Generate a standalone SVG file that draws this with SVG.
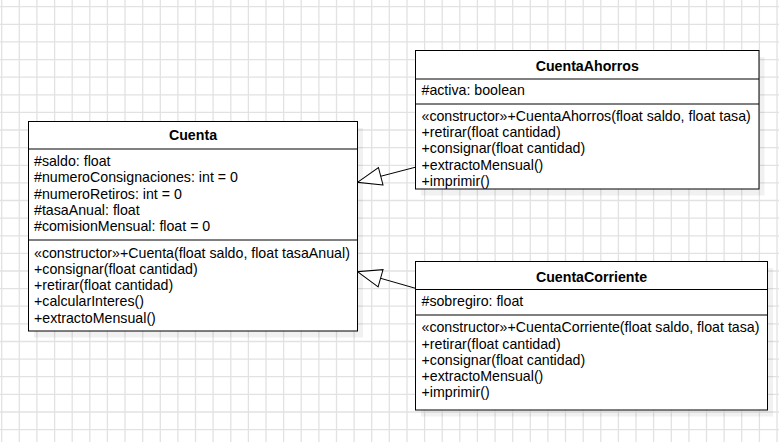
<svg xmlns="http://www.w3.org/2000/svg" width="779" height="442" viewBox="0 0 779 442">
  <style>
    text { font-family: "Liberation Sans", Arial, Helvetica, sans-serif; font-size: 14.2px; fill: #000; }
    .title { font-weight: bold; text-anchor: middle; }
    .box { fill: #fff; stroke: #000; stroke-width: 1; }
    .shadow { fill: #000; opacity: 0.055; }
    .sep { stroke: #000; stroke-width: 1; }
    .grid { fill: none; stroke: #e2e2e2; stroke-width: 1.3; }
    .edge { fill: none; stroke: #000; stroke-width: 1; marker-end: url(#inherit); }
  </style>
  <defs>
    <!-- hollow triangle for generalization -->
    <marker id="inherit" markerUnits="userSpaceOnUse" viewBox="-1 -1 26 20" refX="24" refY="9" markerWidth="26" markerHeight="20" orient="auto">
      <path d="M0,0 L24,9 L0,18 Z" fill="#fff" stroke="#000" stroke-width="1"/>
    </marker>
  </defs>

  <rect width="779" height="442" fill="#fff"/>
  <!-- background grid -->
  <path class="grid" d="M1.7 0V442M19.3 0V442M36.9 0V442M54.6 0V442M72.2 0V442M89.8 0V442M107.4 0V442M125 0V442M142.7 0V442M160.3 0V442M177.9 0V442M195.5 0V442M213.1 0V442M230.8 0V442M248.4 0V442M266 0V442M283.6 0V442M301.2 0V442M318.9 0V442M336.5 0V442M354.1 0V442M371.7 0V442M389.3 0V442M407 0V442M424.6 0V442M442.2 0V442M459.8 0V442M477.4 0V442M495.1 0V442M512.7 0V442M530.3 0V442M547.9 0V442M565.5 0V442M583.2 0V442M600.8 0V442M618.4 0V442M636 0V442M653.6 0V442M671.3 0V442M688.9 0V442M706.5 0V442M724.1 0V442M741.7 0V442M759.4 0V442M777 0V442M0 6.7H779M0 24.3H779M0 41.9H779M0 59.6H779M0 77.2H779M0 94.8H779M0 112.4H779M0 130H779M0 147.7H779M0 165.3H779M0 182.9H779M0 200.5H779M0 218.1H779M0 235.8H779M0 253.4H779M0 271H779M0 288.6H779M0 306.2H779M0 323.9H779M0 341.5H779M0 359.1H779M0 376.7H779M0 394.3H779M0 412H779M0 429.6H779"/>

  <g id="Cuenta">
    <rect class="shadow" x="34" y="128" width="329" height="209.5"/>
    <rect class="box" x="28.5" y="121.5" width="329" height="209.5"/>
    <line class="sep" x1="28.5" y1="149" x2="357.5" y2="149"/>
    <line class="sep" x1="28.5" y1="240" x2="357.5" y2="240"/>
    <text class="title" x="193" y="140">Cuenta</text>
    <text x="34" y="166">#saldo: float</text>
    <text x="34" y="182.3">#numeroConsignaciones: int = 0</text>
    <text x="34" y="198.6">#numeroRetiros: int = 0</text>
    <text x="34" y="214.9">#tasaAnual: float</text>
    <text x="34" y="231.2">#comisionMensual: float = 0</text>
    <text x="34" y="257.5">«constructor»+Cuenta(float saldo, float tasaAnual)</text>
    <text x="34" y="273.8">+consignar(float cantidad)</text>
    <text x="34" y="290.1">+retirar(float cantidad)</text>
    <text x="34" y="306.4">+calcularInteres()</text>
    <text x="34" y="322.7">+extractoMensual()</text>
  </g>

  <g id="CuentaAhorros">
    <rect class="shadow" x="421" y="57" width="343.5" height="138.5"/>
    <rect class="box" x="415.5" y="50.5" width="343.5" height="138.5"/>
    <line class="sep" x1="415.5" y1="79" x2="759" y2="79"/>
    <line class="sep" x1="415.5" y1="104" x2="759" y2="104"/>
    <text class="title" x="587.3" y="71">CuentaAhorros</text>
    <text x="421.5" y="95">#activa: boolean</text>
    <text x="421.5" y="121">«constructor»+CuentaAhorros(float saldo, float tasa)</text>
    <text x="421.5" y="137.2">+retirar(float cantidad)</text>
    <text x="421.5" y="153.4">+consignar(float cantidad)</text>
    <text x="421.5" y="169.6">+extractoMensual()</text>
    <text x="421.5" y="185.8">+imprimir()</text>
  </g>

  <g id="CuentaCorriente">
    <rect class="shadow" x="421" y="268" width="352" height="148.5"/>
    <rect class="box" x="415.5" y="261.5" width="352" height="148.5"/>
    <line class="sep" x1="415.5" y1="289.5" x2="767.5" y2="289.5"/>
    <line class="sep" x1="415.5" y1="315" x2="767.5" y2="315"/>
    <text class="title" x="591.5" y="281.7">CuentaCorriente</text>
    <text x="421.5" y="305.7">#sobregiro: float</text>
    <text x="421.5" y="332.3">«constructor»+CuentaCorriente(float saldo, float tasa)</text>
    <text x="421.5" y="348.5">+retirar(float cantidad)</text>
    <text x="421.5" y="364.8">+consignar(float cantidad)</text>
    <text x="421.5" y="381">+extractoMensual()</text>
    <text x="421.5" y="397.2">+imprimir()</text>
  </g>

  <g id="connectors">
    <path class="edge" d="M415.5 167.2 L357.5 182.3"/>
    <path class="edge" d="M415.5 288.3 L357.5 271.7"/>
  </g>
</svg>
